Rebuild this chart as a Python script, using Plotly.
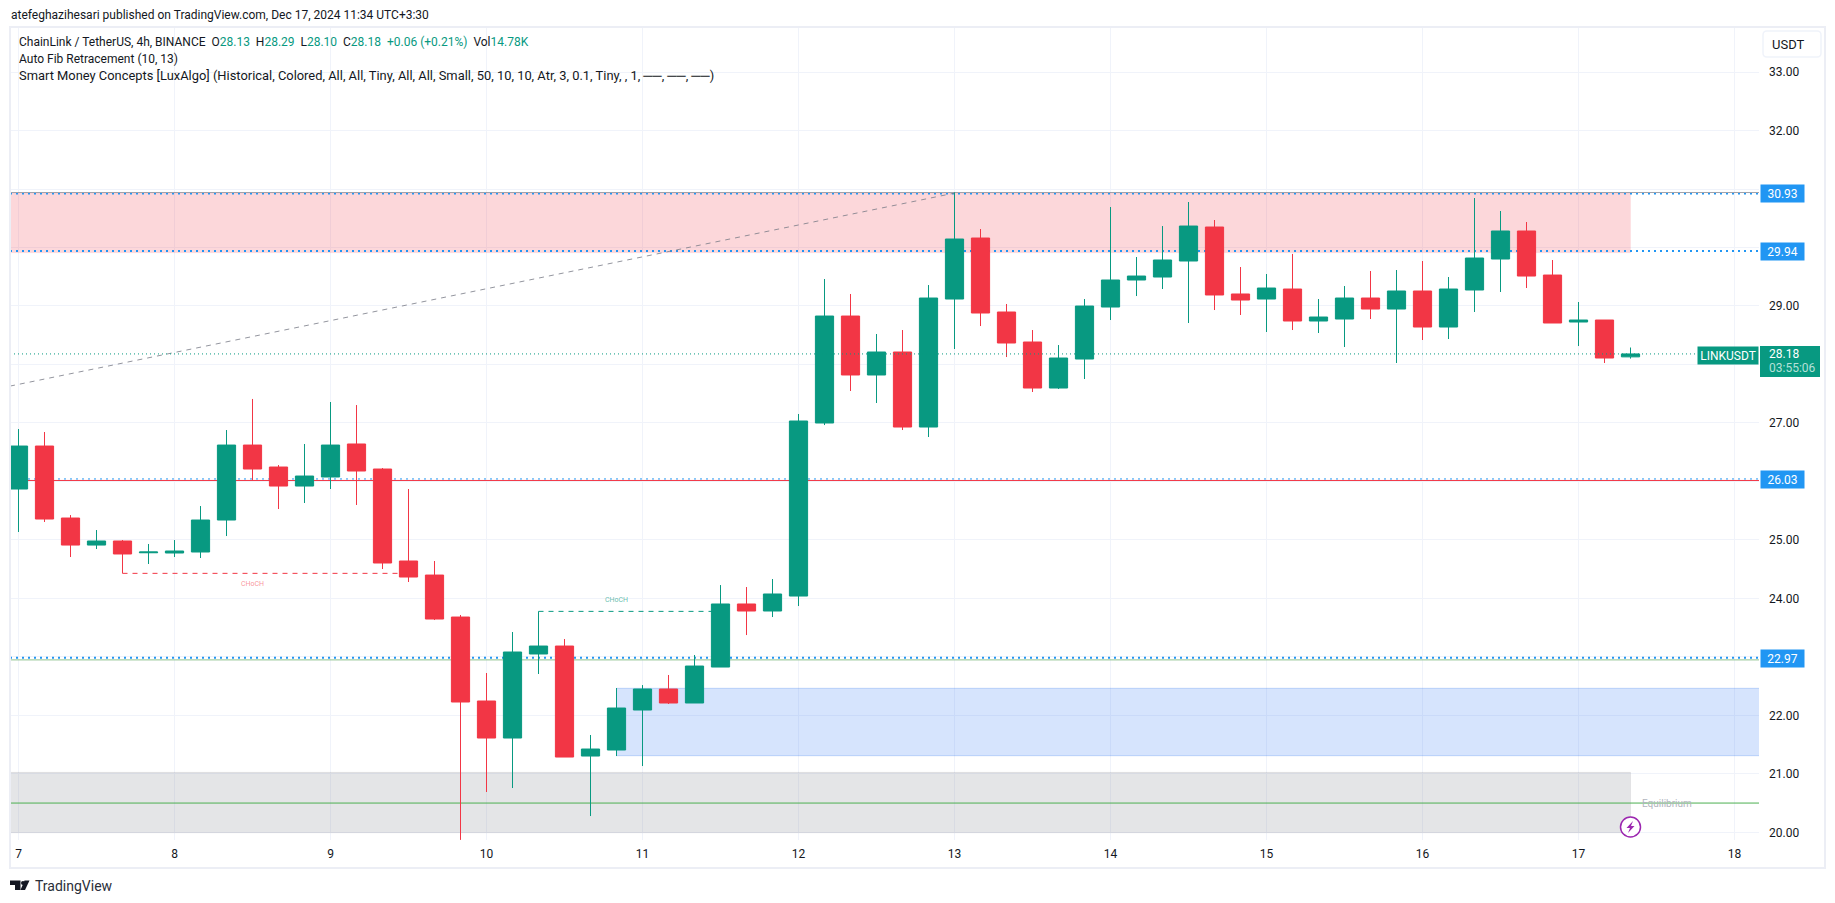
import pandas as pd
import plotly.graph_objects as go

# ---------- data ----------
opens = [25.87, 26.605, 25.374, 24.912, 24.981, 24.78, 24.776, 24.793, 25.34, 26.622, 26.246, 25.921, 26.075,
         26.64, 26.212, 24.639, 24.399, 23.681, 22.245, 21.612, 23.049, 23.185, 21.304, 21.407, 22.091, 22.45,
         22.211, 22.826, 23.904, 23.784, 24.04, 26.999, 28.828, 27.82, 28.213, 26.93, 29.119, 30.162, 28.897,
         28.384, 27.597, 28.093, 28.982, 29.444, 29.495, 29.769, 30.35, 29.205, 29.119, 29.29, 28.743, 28.777,
         29.136, 28.948, 29.256, 28.64, 29.273, 29.803, 30.282, 29.529, 28.726, 28.76, 28.13]
highs = [26.896, 26.845, 25.425, 25.169, 24.998, 24.93, 24.998, 25.579, 26.879, 27.41, 26.28, 26.64, 27.358,
         27.306, 26.229, 25.87, 24.639, 23.716, 22.724, 23.425, 23.778, 23.305, 21.664, 22.467, 22.518, 22.69,
         23.032, 24.228, 24.194, 24.331, 27.153, 29.461, 29.205, 28.521, 28.589, 29.358, 30.943, 30.316, 29.034,
         28.589, 28.332, 29.119, 30.692, 29.837, 30.367, 30.778, 30.47, 29.666, 29.547, 29.89, 29.119, 29.341,
         29.598, 29.615, 29.769, 29.495, 30.846, 30.624, 30.436, 29.786, 29.068, 28.76, 28.29]
lows = [25.135, 25.306, 24.707, 24.844, 24.428, 24.588, 24.707, 24.69, 25.066, 26.024, 25.528, 25.631, 25.87,
        25.597, 24.502, 24.28, 23.63, 19.87, 20.689, 20.757, 22.707, 21.287, 20.278, 21.304, 21.133, 22.194,
        22.211, 22.826, 23.373, 23.681, 23.869, 26.964, 27.546, 27.341, 26.879, 26.759, 28.264, 28.657, 28.127,
        27.529, 27.58, 27.751, 28.76, 29.17, 29.29, 28.709, 28.931, 28.846, 28.555, 28.589, 28.538, 28.298,
        28.777, 28.025, 28.418, 28.435, 28.897, 29.239, 29.307, 28.709, 28.315, 28.025, 28.10]
closes = [26.605, 25.357, 24.912, 24.981, 24.759, 24.793, 24.81, 25.34, 26.622, 26.212, 25.921, 26.092, 26.622,
          26.178, 24.605, 24.365, 23.647, 22.228, 21.612, 23.083, 23.185, 21.287, 21.424, 22.125, 22.45, 22.211,
          22.843, 23.904, 23.784, 24.075, 27.033, 28.828, 27.82, 28.213, 26.93, 29.136, 30.145, 28.88, 28.367,
          27.597, 28.11, 28.999, 29.444, 29.512, 29.786, 30.367, 29.188, 29.102, 29.307, 28.743, 28.811, 29.136,
          28.948, 29.256, 28.64, 29.29, 29.82, 30.282, 29.512, 28.709, 28.76, 28.11, 28.18]
dates = pd.date_range("2024-12-07 00:00", periods=len(opens), freq="4h")

day_ticks = pd.date_range("2024-12-07", "2024-12-18", freq="1D")
price_ticks = list(range(20, 34))
hidden_price_labels = {31, 30, 28, 26, 23}   # covered by the price tags in the reference

fib_top, fib_786, fib_mid, fib_low = 30.93, 29.94, 26.03, 22.97
last_price = 28.18
equilibrium = 20.50
premium_zone = (29.91, 30.93)
discount_zone = (19.993, 21.025)
order_block = (21.31, 22.462)
choch_down_level, choch_up_level = 24.428, 23.778
fib_trend_start = 27.63

header_text = "atefeghazihesari published on TradingView.com, Dec 17, 2024 11:34 UTC+3:30"
legend_fib = "Auto Fib Retracement (10, 13)"
legend_smc = ("Smart Money Concepts [LuxAlgo] (Historical, Colored, All, All, Tiny, All, All, Small, 50, 10, 10, "
              "Atr, 3, 0.1, Tiny, , 1, ──, ──, ──)")

# ---------- style ----------
UP, DOWN, BLUE, INK = "#089981", "#f23645", "#2196f3", "#131722"
GRID, FRAME = "#f0f3fa", "#eceef5"
FONT = "Roboto"
W, H = 1835, 903
L, R, T, B = 10, 1759, 27, 840


def fx(px):
    return (px - L) / (R - L)


def fy(py):
    return (B - py) / (B - T)


def p(cmds):
    """Build an SVG path in paper fractions from full-image pixel commands."""
    out = []
    for c in cmds:
        if isinstance(c, str):
            out.append(c)
        else:
            out.append(f"{fx(c[0]):.6f},{fy(c[1]):.6f}")
    return " ".join(out)


day = pd.Timedelta(days=1)
x_left = dates[0] + day * ((L - 18.5) / 156)
x_right = dates[0] + day * ((R - 18.5) / 156)
y_low = 20 + (832.3 - B) / 58.48
y_high = 20 + (832.3 - T) / 58.48

fig = go.Figure(go.Candlestick(
    x=dates, open=opens, high=highs, low=lows, close=closes,
    increasing=dict(line=dict(color=UP, width=1), fillcolor=UP),
    decreasing=dict(line=dict(color=DOWN, width=1), fillcolor=DOWN),
    whiskerwidth=0, hoverinfo="skip", showlegend=False,
))


def hline(y, color, width=1, dash="solid", x0=x_left, x1=x_right, layer="between"):
    fig.add_shape(type="line", xref="x", yref="y", x0=x0, x1=x1, y0=y, y1=y,
                  line=dict(color=color, width=width, dash=dash), layer=layer)


def zone(x0, x1, rng, fill, edge):
    fig.add_shape(type="rect", xref="x", yref="y", x0=x0, x1=x1, y0=rng[0], y1=rng[1],
                  fillcolor=fill, line=dict(color=edge, width=1), layer="between")


zone(x_left - day, dates[-1], premium_zone, "rgba(242,54,69,0.2)", "rgba(242,54,69,0.05)")
zone(x_left - day, dates[-1], discount_zone, "rgba(120,123,134,0.2)", "rgba(120,123,134,0.12)")
zone(dates[23], x_right + day, order_block, "rgba(50,120,245,0.2)", "rgba(50,120,245,0.25)")

DOT = "2px,4px"
hline(fib_top + 0.01, "rgba(120,123,134,0.7)")
hline(fib_top - 0.01, BLUE, 1.5, DOT)
hline(fib_786, BLUE, 2, DOT)
hline(fib_mid - 0.014, DOWN, 1)
hline(fib_mid + 0.012, BLUE, 1, DOT)
hline(fib_low - 0.022, "#8fc18f", 1)
hline(fib_low + 0.014, BLUE, 2, DOT)
hline(equilibrium, "#4caf50", 1)
hline(last_price, UP, 1, "1px,3px", x1=dates[0] + day * ((1699 - 18.5) / 156), layer="above")

# fib trend line, structure breaks
fig.add_shape(type="line", xref="x", yref="y", x0=x_left, x1=dates[36], y0=fib_trend_start, y1=fib_top,
              line=dict(color="rgba(120,123,134,0.8)", width=1, dash="5px,5px"), layer="between")
hline(choch_down_level, DOWN, 1, "5px,5px", x0=dates[4], x1=dates[15])
hline(choch_up_level, UP, 1, "5px,5px", x0=dates[20], x1=dates[27])

# outer frame
fig.add_shape(type="rect", xref="paper", yref="paper", x0=fx(10), x1=fx(1825), y0=fy(868), y1=fy(27),
              line=dict(color=FRAME, width=2), fillcolor="rgba(0,0,0,0)", layer="above")

# last-price box on the scale
fig.add_shape(type="rect", xref="paper", yref="paper", x0=fx(1760), x1=fx(1820), y0=fy(377), y1=fy(346),
              fillcolor=UP, line=dict(width=0), layer="above")

# USDT button
ux0, ux1, uy0, uy1, r = 1763, 1821, 31, 57, 4
fig.add_shape(type="path", xref="paper", yref="paper", layer="above", line=dict(color=GRID, width=1.5),
              fillcolor="white",
              path=p(["M", (ux0 + r, uy0), "L", (ux1 - r, uy0), "Q", (ux1, uy0), (ux1, uy0 + r),
                      "L", (ux1, uy1 - r), "Q", (ux1, uy1), (ux1 - r, uy1), "L", (ux0 + r, uy1),
                      "Q", (ux0, uy1), (ux0, uy1 - r), "L", (ux0, uy0 + r), "Q", (ux0, uy0), (ux0 + r, uy0), "Z"]))

# purple bolt badge
fig.add_shape(type="circle", xref="paper", yref="paper", x0=fx(1620.5), x1=fx(1640.5), y0=fy(837), y1=fy(817),
              fillcolor="white", line=dict(color="#9c27b0", width=1.5), layer="above")
fig.add_shape(type="path", xref="paper", yref="paper", fillcolor="#9c27b0", line=dict(width=0), layer="above",
              path=p(["M", (1633, 821), "L", (1626.5, 828), "L", (1630, 828), "L", (1628, 833),
                      "L", (1634.5, 826), "L", (1631, 826), "Z"]))

# TradingView logo
fig.add_shape(type="path", xref="paper", yref="paper", fillcolor=INK, line=dict(width=0), layer="above",
              path=p(["M", (10, 880.5), "L", (20.5, 880.5), "L", (20.5, 890), "L", (15, 890), "L", (15, 885),
                      "L", (10, 885), "Z"]))
fig.add_shape(type="circle", xref="paper", yref="paper", x0=fx(21), x1=fx(25), y0=fy(885), y1=fy(881),
              fillcolor=INK, line=dict(width=0), layer="above")
fig.add_shape(type="path", xref="paper", yref="paper", fillcolor=INK, line=dict(width=0), layer="above",
              path=p(["M", (24.5, 880.5), "L", (29.5, 880.5), "L", (25, 890), "L", (20.5, 890), "Z"]))


def label(text, px, py, size=12, color=INK, anchor="left", **kw):
    fig.add_annotation(text=text, xref="paper", yref="paper", x=fx(px), y=fy(py), showarrow=False,
                       xanchor=anchor, yanchor="middle", align=anchor if anchor != "center" else "center",
                       font=dict(family=FONT, size=size, color=color), borderpad=0, **kw)


def g(s):
    return f"<span style='color:{UP}'>{s}</span>"


label(header_text, 10, 15)
label("ChainLink / TetherUS, 4h, BINANCE  O" + g("28.13") + "  H" + g("28.29") + "  L" + g("28.10") + "  C" + g("28.18")
      + "  " + g("+0.06 (+0.21%)") + "  Vol" + g("14.78K"), 18, 42)
label(legend_fib, 18, 59)
label(legend_smc, 18, 76, size=12.9)
label("USDT", 1788, 44, size=13, anchor="center")
label("TradingView", 34, 886, size=14, color="#2a2e39")
label("CHoCH", 252.5, 584.5, size=7, color="rgba(242,54,69,0.55)", anchor="center")
label("CHoCH", 616.5, 599.5, size=7, color="rgba(8,153,129,0.65)", anchor="center")
label("Equilibrium", 1667, 803, size=10, color="#b2b5be", anchor="center")

# price tags on the scale
for value in (fib_top, fib_786, fib_mid, fib_low):
    fig.add_annotation(text=f"{value:.2f}", xref="paper", yref="y", x=1, y=value, xshift=1,
                       xanchor="left", yanchor="middle", showarrow=False, bgcolor=BLUE, width=43, height=17,
                       align="center", font=dict(family=FONT, size=12, color="white"), borderpad=0)
fig.add_annotation(text="LINKUSDT", xref="paper", yref="y", x=1, y=last_price, xanchor="right", yanchor="top",
                   yshift=8, showarrow=False, bgcolor=UP, width=60, height=17, align="center",
                   font=dict(family=FONT, size=12, color="white"), borderpad=0)
label(f"{last_price:.2f}", 1768, 354, color="white")
label("03:55:06", 1768, 368, color="#b5e0d8")

fig.update_layout(
    template="none", width=W, height=H, autosize=False, showlegend=False, hovermode=False, dragmode=False,
    paper_bgcolor="white", plot_bgcolor="white", boxgap=0.3, boxgroupgap=0,
    margin=dict(l=L, r=W - R, t=T, b=H - B, pad=0),
    font=dict(family=FONT, size=12, color=INK),
    xaxis=dict(type="date", range=[x_left, x_right], rangeslider=dict(visible=False), tickmode="array",
               tickvals=list(day_ticks), ticktext=[str(d.day) for d in day_ticks], showgrid=True, gridcolor=GRID,
               gridwidth=1, ticks="", showline=False, zeroline=False, automargin=False, ticklabelstandoff=5,
               tickfont=dict(family=FONT, size=12, color=INK)),
    yaxis=dict(side="right", range=[y_low, y_high], tickmode="array", tickvals=price_ticks,
               ticktext=["" if v in hidden_price_labels else f"{v:.2f}" for v in price_ticks],
               showgrid=True, gridcolor=GRID, gridwidth=1, ticks="",
               showline=False, zeroline=False, automargin=False, ticklabelstandoff=9,
               tickfont=dict(family=FONT, size=12, color=INK)),
)

fig.write_html("out.html", config={"displayModeBar": False},
               post_script="document.body.style.margin='0';")
